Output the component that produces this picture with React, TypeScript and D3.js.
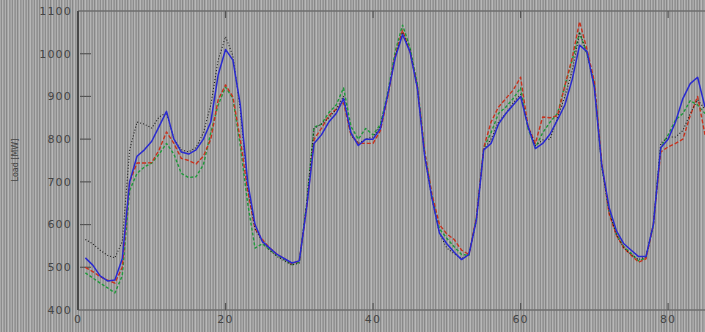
import React from "react";
import * as d3 from "d3";

const hours: number[] = d3.range(1, 86);

const seriesBlack: number[] = [565,555,540,528,522,560,775,840,835,826,852,862,800,775,770,780,815,880,985,1040,995,870,690,590,560,540,525,515,505,510,650,825,835,850,870,900,810,790,800,805,830,905,995,1050,1010,920,760,660,580,545,532,520,530,610,775,800,840,860,885,905,830,785,798,800,850,900,960,1050,1000,925,735,630,575,545,530,518,525,600,790,805,805,820,860,892,870];
const seriesBlue: number[] = [522,505,480,468,470,520,700,760,775,795,830,865,800,770,765,775,800,840,950,1010,985,880,700,600,560,545,530,520,510,515,640,790,810,840,860,895,815,785,800,800,825,905,990,1045,1005,920,760,660,580,555,535,518,530,610,775,790,835,860,880,900,830,778,790,812,845,880,940,1020,1005,920,740,640,585,555,540,525,525,600,780,800,840,895,930,945,875];
const seriesRed: number[] = [500,490,478,470,463,500,700,744,744,745,775,817,790,755,750,742,760,800,892,927,899,800,680,590,565,545,530,520,508,515,640,800,825,855,870,885,810,790,790,790,820,900,995,1055,1005,925,770,670,600,578,565,540,530,615,780,840,875,895,915,945,830,790,852,850,855,925,990,1075,1010,935,745,625,575,545,528,512,520,600,770,782,790,800,855,900,810];
const seriesGreen: number[] = [487,475,463,452,440,480,680,720,735,744,765,790,765,720,710,712,740,815,880,922,895,785,650,545,555,540,528,518,506,512,650,828,835,862,880,920,830,800,825,810,835,910,1005,1067,1015,930,770,665,590,568,548,530,528,615,780,815,860,875,895,920,825,780,815,840,860,925,985,1049,1000,930,740,630,578,548,532,515,522,600,780,810,845,860,890,880,860];

const yTicks: number[] = [400, 500, 600, 700, 800, 900, 1000, 1100];
const xTicks: number[] = [0, 20, 40, 60, 80];
const yLabel = "Load [MW]";

const stripeColors = ["#a8a8a8", "#8c8c8c", "#b4b4b4", "#9c9c9c", "#929292", "#b0b0b0", "#888888", "#a4a4a4", "#b8b8b8", "#949494", "#a0a0a0"];

export default function App() {
  const W = 705, H = 332;
  const x = d3.scaleLinear().domain([0, 85]).range([78, 705]);
  const y = d3.scaleLinear().domain([400, 1100]).range([310, 11]);
  const line = d3.line<number>().x((_, i) => x(hours[i])).y((d) => y(d));

  const series = [
    { data: seriesGreen, color: "#1f9a3a", dash: "3,2", width: 1.4 },
    { data: seriesRed, color: "#c8321e", dash: "4,2", width: 1.4 },
    { data: seriesBlack, color: "#1a1a1a", dash: "1,2", width: 1.1 },
    { data: seriesBlue, color: "#2a2ad0", dash: undefined, width: 1.5 },
  ];

  return (
    <svg width={W} height={H} style={{ position: "absolute", left: 0, top: 0 }} fontFamily="DejaVu Sans, sans-serif">
      <defs>
        <pattern id="stripes" width={stripeColors.length} height={H} patternUnits="userSpaceOnUse">
          {stripeColors.map((c, i) => (
            <rect key={i} x={i} y={0} width={1} height={H} fill={c} />
          ))}
        </pattern>
      </defs>
      <rect x={0} y={0} width={W} height={H} fill="url(#stripes)" />

      {/* frame */}
      <line x1={x(0)} x2={W} y1={y(1100)} y2={y(1100)} stroke="#6e6e6e" strokeWidth={1.5} />
      <line x1={x(0)} x2={W} y1={y(400)} y2={y(400)} stroke="#6e6e6e" strokeWidth={1.5} />
      <line x1={x(0)} x2={x(0)} y1={y(1100)} y2={y(400)} stroke="#4a4a4a" strokeWidth={2} />

      {/* y ticks */}
      {yTicks.map((t) => (
        <g key={t}>
          {t !== 400 && t !== 1100 && (
            <line x1={x(0) + 2} x2={x(0) + 13} y1={y(t)} y2={y(t)} stroke="#555" strokeWidth={1.2} />
          )}
          <text x={72} y={y(t)} dy="0.35em" textAnchor="end" fontSize={11} letterSpacing={1.2} fill="#444">{t}</text>
        </g>
      ))}

      {/* x ticks */}
      {xTicks.map((t) => (
        <g key={t}>
          {t !== 0 && (
            <>
              <line x1={x(t)} x2={x(t)} y1={y(400)} y2={y(400) - 7} stroke="#555" strokeWidth={1.2} />
              <line x1={x(t)} x2={x(t)} y1={y(1100)} y2={y(1100) + 7} stroke="#555" strokeWidth={1.2} />
            </>
          )}
          <text x={x(t)} y={323} textAnchor="middle" fontSize={11} letterSpacing={1.2} fill="#444">{t}</text>
        </g>
      ))}

      <text transform={`translate(18,160) rotate(-90)`} textAnchor="middle" fontSize={8} fill="#444">{yLabel}</text>

      {series.map((s, i) => (
        <path key={i} d={line(s.data) || ""} fill="none" stroke={s.color} strokeWidth={s.width} strokeDasharray={s.dash} strokeLinejoin="round" />
      ))}
    </svg>
  );
}
